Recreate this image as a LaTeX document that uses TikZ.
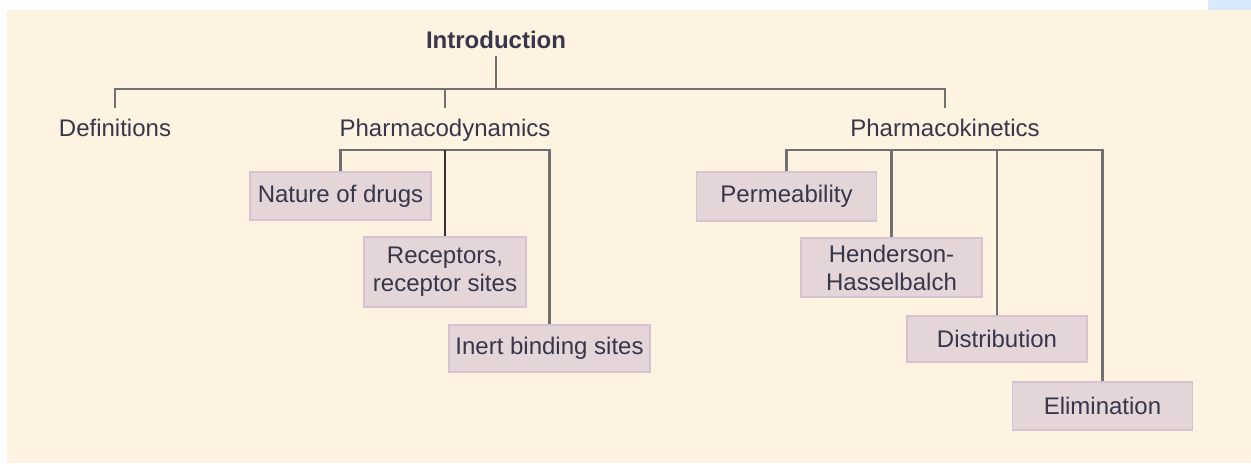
\documentclass[tikz,border=0pt]{standalone}
\usepackage{fontspec}
\setmainfont{Liberation Sans}

\definecolor{paper}{HTML}{FEF2E1}
\definecolor{sky}{HTML}{D8EAFB}
\definecolor{ink}{HTML}{37364A}
\definecolor{boxfill}{HTML}{E3D5D8}
\definecolor{boxline}{HTML}{D5C2D2}
\definecolor{wire}{HTML}{707070}

\begin{document}
\begin{tikzpicture}[x=0.5pt, y=-0.5pt,
        every node/.style={text=ink, font=\fontsize{12}{14}\selectfont},
        head/.style={inner sep=5pt, text height=9pt, text depth=2.5pt},
        topic/.style={draw=boxline, fill=boxfill, line width=0.7pt,
            align=center, inner sep=3pt, minimum width=90pt, minimum height=24pt},
        link/.style={draw=wire, line width=1.25pt}]
        \useasboundingbox (0,0) rectangle (1251,463);
        \fill[paper] (7,10) rectangle (1251,463);
        \fill[sky] (1208,0) rectangle (1251,10);

        \node[head, inner sep=1.5pt, font=\fontsize{12}{14}\selectfont\bfseries] (intro) at (496,41.5) {Introduction};
        \node[head] (defs) at (115,129.5) {Definitions};
        \node[head] (pd) at (445,129.5) {Pharmacodynamics};
        \node[head] (pk) at (945,129.5) {Pharmacokinetics};

        \node[topic, minimum width=90.5pt] (nature) at (340.5,196) {Nature of drugs};
        \node[topic, minimum width=81pt, minimum height=35pt] (recep) at (445,272) {Receptors,\\receptor sites};
        \node[topic, minimum width=100.5pt, minimum height=23.5pt] (inert) at (549.5,348.5) {Inert binding sites};

        \node[topic, minimum height=24.5pt] (perm) at (786.5,196.5) {Permeability};
        \node[topic, minimum width=90.5pt, minimum height=29.5pt, inner ysep=1.5pt] (hh) at (891.5,267.5) {Henderson-\\Hasselbalch};
        \node[topic, minimum height=23pt] (dist) at (997,339) {Distribution};
        \node[topic] (elim) at (1102.5,406) {Elimination};

        \coordinate (hub) at (496,89);
        \coordinate (pdbar) at (445,150);
        \coordinate (pkbar) at (892,150);

        \draw[link] (intro) -- (hub);
        \draw[link] (defs) |- (hub) -| (pk);
        \draw[link] (pd) -- (pd |- hub);

        \draw[link] (nature) |- (pdbar) -| (inert);
        \draw[link, draw=black!80] (recep) -- (pdbar);

        \draw[link] (perm) |- (pkbar) -| (elim);
        \draw[link] (hh) -- (hh |- pkbar);
        \draw[link] (dist) -- (dist |- pkbar);
    \end{tikzpicture}
\end{document}
